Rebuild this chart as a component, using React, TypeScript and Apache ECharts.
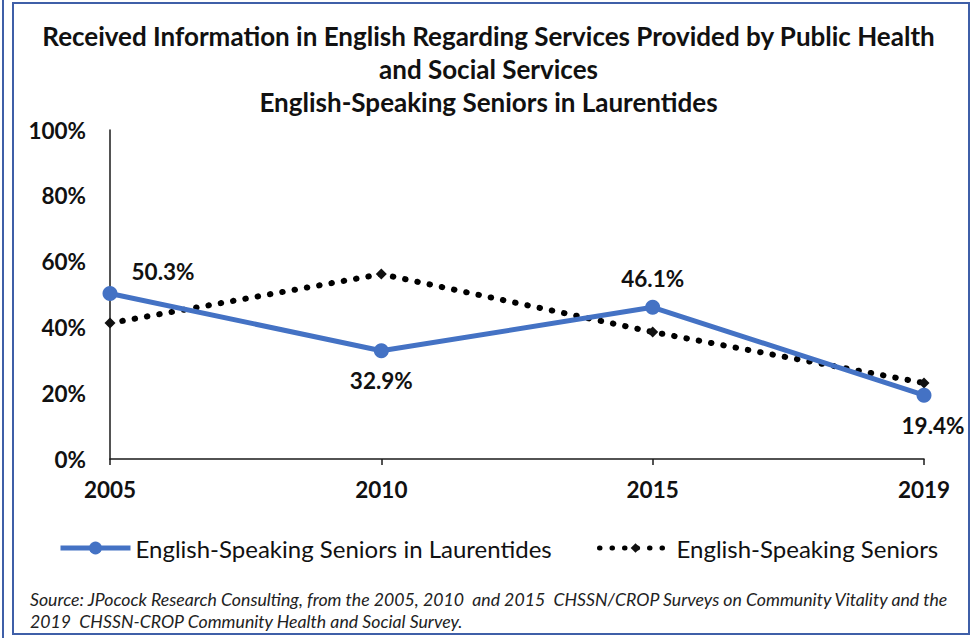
import React, { useEffect, useRef } from "react";
import * as echarts from "echarts";

const years = ["2005", "2010", "2015", "2019"];
const laurentides = [50.3, 32.9, 46.1, 19.4];
const seniors = [41.3, 56.2, 38.6, 23.1];
const yTicks = [0, 20, 40, 60, 80, 100];
const titleLines = [
  "Received Information in English Regarding Services Provided by Public Health",
  "and Social Services",
  "English-Speaking Seniors in Laurentides",
];
const sourceLines = [
  "Source: JPocock Research Consulting, from the 2005, 2010  and 2015  CHSSN/CROP Surveys on Community Vitality and the",
  "2019  CHSSN-CROP Community Health and Social Survey.",
];
const seriesNames = ["English-Speaking Seniors in Laurentides", "English-Speaking Seniors"];
const labelPos = ["top", "bottom", "top", "bottom"];
const labelOffset = [[53, 2], [0, 6], [0, -5], [9, 6]];

const FONT = "Lato";
const BORDER = "#3F5FA8";

export default function App() {
  const ref = useRef<HTMLDivElement>(null);
  useEffect(() => {
    if (!ref.current) return;
    const chart = echarts.init(ref.current, null, { renderer: "svg" });
    chart.setOption({
      animation: false,
      backgroundColor: "#ffffff",
      textStyle: { fontFamily: FONT },
      title: {
        text: titleLines.join("\n"),
        left: "center",
        top: 14,
        textStyle: { fontFamily: FONT, fontWeight: "bold", fontSize: 26, lineHeight: 33, color: "#111" },
      },
      grid: { left: 110, right: 53, top: 130, bottom: 179 },
      legend: [
        {
          data: [seriesNames[0]],
          left: 53,
          top: 531,
          itemWidth: 70,
          itemHeight: 16,
          itemGap: 0,
          lineStyle: { width: 5 },
          textStyle: { fontFamily: FONT, fontSize: 24, color: "#111" },
        },
        {
          data: [seriesNames[1]],
          left: 592,
          top: 531,
          itemWidth: 72,
          itemHeight: 12,
          lineStyle: { width: 5 },
          textStyle: { fontFamily: FONT, fontSize: 24, color: "#111" },
        },
      ],
      xAxis: {
        type: "category",
        data: years,
        boundaryGap: false,
        axisLine: { lineStyle: { color: "#1a1a1a", width: 1.5 } },
        axisTick: { show: true, length: 6, alignWithLabel: true, lineStyle: { color: "#1a1a1a", width: 1.5 } },
        axisLabel: { fontFamily: FONT, fontWeight: "bold", fontSize: 22.5, color: "#111", margin: 19 },
        splitLine: { show: false },
      },
      yAxis: {
        type: "value",
        min: yTicks[0],
        max: yTicks[yTicks.length - 1],
        interval: 20,
        axisLine: { show: true, lineStyle: { color: "#1a1a1a", width: 1.5 } },
        axisTick: { show: false },
        splitLine: { show: false },
        axisLabel: { fontFamily: FONT, fontWeight: "bold", fontSize: 22.5, color: "#111", margin: 24, formatter: "{value}%" },
      },
      series: [
        {
          name: seriesNames[1],
          type: "line",
          data: seniors,
          symbol: "diamond",
          symbolSize: 11,
          itemStyle: { color: "#111" },
          lineStyle: { color: "#000", width: 6, type: [0.5, 12], cap: "round" },
          z: 2,
        },
        {
          name: seriesNames[0],
          type: "line",
          data: laurentides.map((v, i) => ({
            value: v,
            label: {
              show: true,
              position: labelPos[i],
              offset: labelOffset[i],
              formatter: v.toFixed(1) + "%",
              fontFamily: FONT,
              fontWeight: "bold",
              fontSize: 22.5,
              color: "#111",
            },
          })),
          symbol: "circle",
          symbolSize: 15,
          itemStyle: { color: "#4472C4" },
          lineStyle: { color: "#4472C4", width: 5 },
          z: 3,
        },
      ],
      graphic: [
        { type: "line", shape: { x1: 3, y1: 0, x2: 3, y2: 638 }, style: { stroke: BORDER, lineWidth: 2 } },
        { type: "rect", shape: { x: 13, y: 3, width: 956, height: 631 }, style: { fill: "none", stroke: BORDER, lineWidth: 2 } },
        ...sourceLines.map((t, i) => ({
          type: "text",
          left: 30,
          top: 590 + i * 22,
          style: { text: t, font: `italic 17.7px ${FONT}`, fill: "#222" },
        })),
      ],
    });
    return () => chart.dispose();
  }, []);
  return <div ref={ref} style={{ position: "fixed", left: 0, top: 0, width: 977, height: 638 }} />;
}
